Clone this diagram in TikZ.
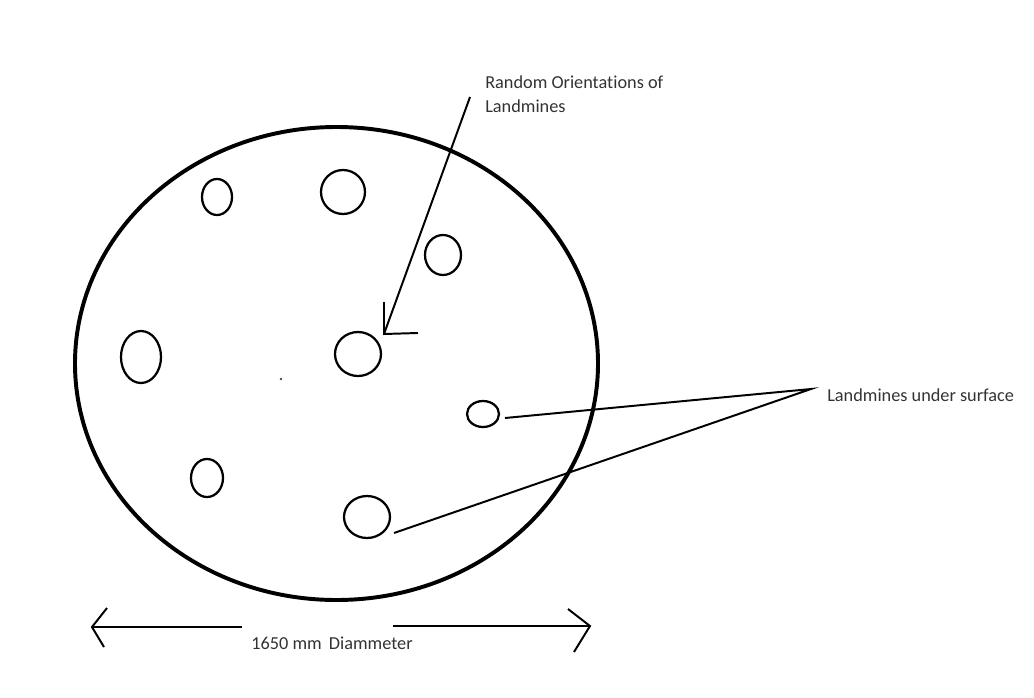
\documentclass[tikz,border=0pt]{standalone}
\usepackage{fontspec}
\setmainfont[Ligatures=NoCommon]{Carlito}
\usetikzlibrary{shapes.geometric}
\definecolor{txt}{HTML}{333333}
\tikzset{
  mine/.style={draw=black, line width=1.6pt, ellipse, inner sep=0pt},
  field/.style={draw=black, line width=2.8pt, ellipse, inner sep=0pt},
  thin/.style={draw=black, line width=1.4pt},
  lbl/.style={text=txt, font=\fontsize{13pt}{17pt}\selectfont, inner sep=0pt, align=left}
}
\begin{document}
\begin{tikzpicture}[x=0.025cm,y=-0.025cm]
\useasboundingbox (0,0) rectangle (1034,698);
% field
\node[field, minimum width=523*0.025cm, minimum height=473*0.025cm] (field) at (336.5,363.5) {};
% landmines
\node[mine, minimum width=30*0.025cm, minimum height=36*0.025cm] (m1) at (217,197) {};
\node[mine, minimum width=44*0.025cm, minimum height=44*0.025cm] (m2) at (343,192) {};
\node[mine, minimum width=36*0.025cm, minimum height=40*0.025cm] (m3) at (443,255) {};
\node[mine, minimum width=40*0.025cm, minimum height=52*0.025cm] (m4) at (141,357) {};
\node[mine, minimum width=46*0.025cm, minimum height=44*0.025cm] (m5) at (358,354) {};
\node[mine, minimum width=32*0.025cm, minimum height=26*0.025cm] (m6) at (483,414) {};
\node[mine, minimum width=32*0.025cm, minimum height=38*0.025cm] (m7) at (207,478) {};
\node[mine, minimum width=46*0.025cm, minimum height=42*0.025cm] (m8) at (367,517) {};
\fill[black!70] (281,379) circle (0.9pt);
% labels
\node[lbl, anchor=north west] (orient) at (485,76) {Random Orientations of\\Landmines};
\node[lbl, anchor=west] (under) at (827,395) {Landmines under surface};
\node[lbl] (diam) at (332,643) {1650 mm\, Diammeter};
% orientation arrow (open L-shaped head)
\coordinate (oStart) at (470,97);
\coordinate (oTip) at (384,334);
\coordinate (oUp) at (384,302);
\coordinate (oRight) at (418,333);
\draw[thin] (oStart) -- (oTip);
\draw[thin] (oUp) -- (oTip) -- (oRight);
% landmines under surface lines
\coordinate (uJoin) at (811,389);
\coordinate (u6) at (505,418);
\coordinate (u8) at (394,533);
\draw[thin] (u6) -- (uJoin) -- (u8);
% diameter arrow
\coordinate (dL) at (92,627);
\coordinate (dLe) at (242,627);
\coordinate (dRs) at (393,626);
\coordinate (dR) at (590,626);
\draw[thin] (dL) -- (dLe);
\draw[thin] (dRs) -- (dR);
\draw[thin] (107,608) -- (dL) -- (104,647);
\draw[thin] (568,609) -- (dR) -- (574,652);
\end{tikzpicture}
\end{document}
